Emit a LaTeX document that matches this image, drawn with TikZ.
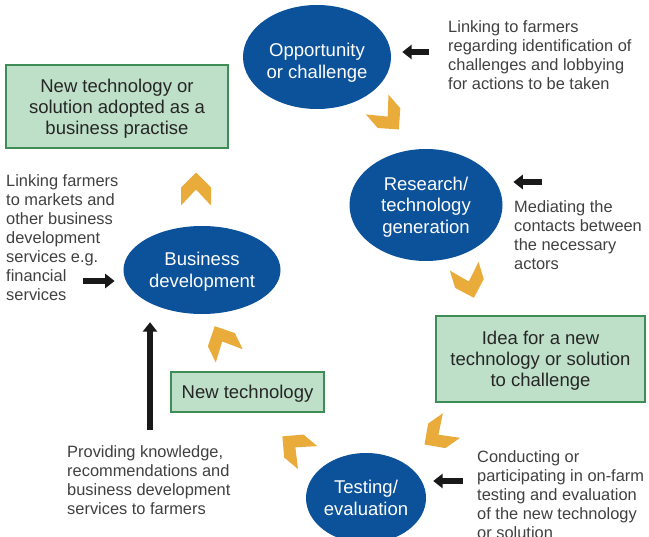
\documentclass[tikz,border=0pt]{standalone}
\usepackage{fontspec}
\setmainfont{Liberation Sans}
\usetikzlibrary{shapes.geometric,arrows.meta}

\definecolor{stageblue}{RGB}{11,82,155}
\definecolor{boxgreen}{RGB}{190,224,200}
\definecolor{boxedge}{RGB}{62,140,86}
\definecolor{chevorange}{RGB}{233,171,58}
\definecolor{notegray}{RGB}{64,64,64}

\begin{document}
\begin{tikzpicture}[x=0.03cm,y=-0.03cm]
  \tikzstyle{stage}=[ellipse,fill=stageblue,text=white,inner sep=0pt,text depth=0pt,
                     align=center,font=\fontsize{15.8}{18.5}\selectfont]
  \tikzstyle{result}=[rectangle,draw=boxedge,line width=0.9pt,fill=boxgreen,
                      text=black!85,inner sep=0pt,text depth=0pt,align=center,
                      font=\fontsize{15.8}{18}\selectfont]
  \tikzstyle{note}=[text=notegray,inner sep=0pt,align=left,
                    font=\fontsize{14}{16.2}\selectfont]
  \tikzstyle{link}=[line width=4.5pt,draw=black!90,
                    -{Triangle[length=8pt,width=12pt]}]
  \tikzstyle{chev}=[fill=chevorange]

  \useasboundingbox (0,0) rectangle (649,536);

  % stages of the cycle
  \node[stage,text height=37pt,minimum width=4.44cm,minimum height=3.12cm] (opp) at (317,57) {Opportunity\\or challenge};
  \node[stage,minimum width=4.59cm,minimum height=3.36cm] (res) at (426,205) {Research/\\technology\\generation};
  \node[stage,minimum width=4.71cm,minimum height=2.64cm] (bus) at (202,270) {Business\\development};
  \node[stage,minimum width=3.6cm,minimum height=2.7cm] (test) at (366,498) {Testing/\\evaluation};

  % outcomes
  \node[result,minimum width=6.66cm,minimum height=2.49cm] (adopt) at (117,106.5) {New technology or\\solution adopted as a\\business practise};
  \node[result,minimum width=6.27cm,minimum height=2.58cm] (idea) at (540.5,359) {Idea for a new\\technology or solution\\to challenge};
  \node[result,minimum width=4.59cm,minimum height=1.2cm] (newtech) at (247.5,392) {New technology};

  % roles
  \node[note,anchor=west] (n1) at (448,55.5) {Linking to farmers\\regarding identification of\\challenges and lobbying\\for actions to be taken};
  \node[note,anchor=west] (n2) at (514,235.5) {Mediating the\\contacts between\\the necessary\\actors};
  \node[note,anchor=west] (n3) at (6,238) {Linking farmers\\to markets and\\other business\\development\\services e.g.\\financial\\services};
  \node[note,anchor=west] (n4) at (67,480) {Providing knowledge,\\recommendations and\\business development\\services to farmers};
  \node[note,anchor=west] (n5) at (477,495) {Conducting or\\participating in on-farm\\testing and evaluation\\of the new technology\\or solution};

  \coordinate (t1) at (429,52);
  \coordinate (t2) at (542,182);
  \coordinate (t3) at (83,281);
  \coordinate (t4) at (150,430);
  \coordinate (t5) at (463,481);

  \draw[link,shorten >=0.33cm] (t1) -- (t1 -| opp.east);
  \draw[link,shorten >=0.32cm] (t2) -- (t2 -| res.east);
  \draw[link,shorten >=0.26cm] (t3) -- (t3 -| bus.west);
  \draw[link,shorten >=0.24cm] (t4) -- (t4 |- bus.south);
  \draw[link,shorten >=0.21cm] (t5) -- (t5 -| test.east);

  % chevrons round the cycle
  \foreach \cx/\cy/\ang in {388/117/-49, 469/282/-73, 438/435/-145,
                            295/447/140, 222/341/116, 196/189/90}
    \fill[chev,shift={(\cx,\cy)},rotate=\ang]
      (16.5,0) -- (1.5,15) -- (-16.5,15) -- (-0.5,0) -- (-16.5,-15) -- (1.5,-15) -- cycle;
\end{tikzpicture}
\end{document}
